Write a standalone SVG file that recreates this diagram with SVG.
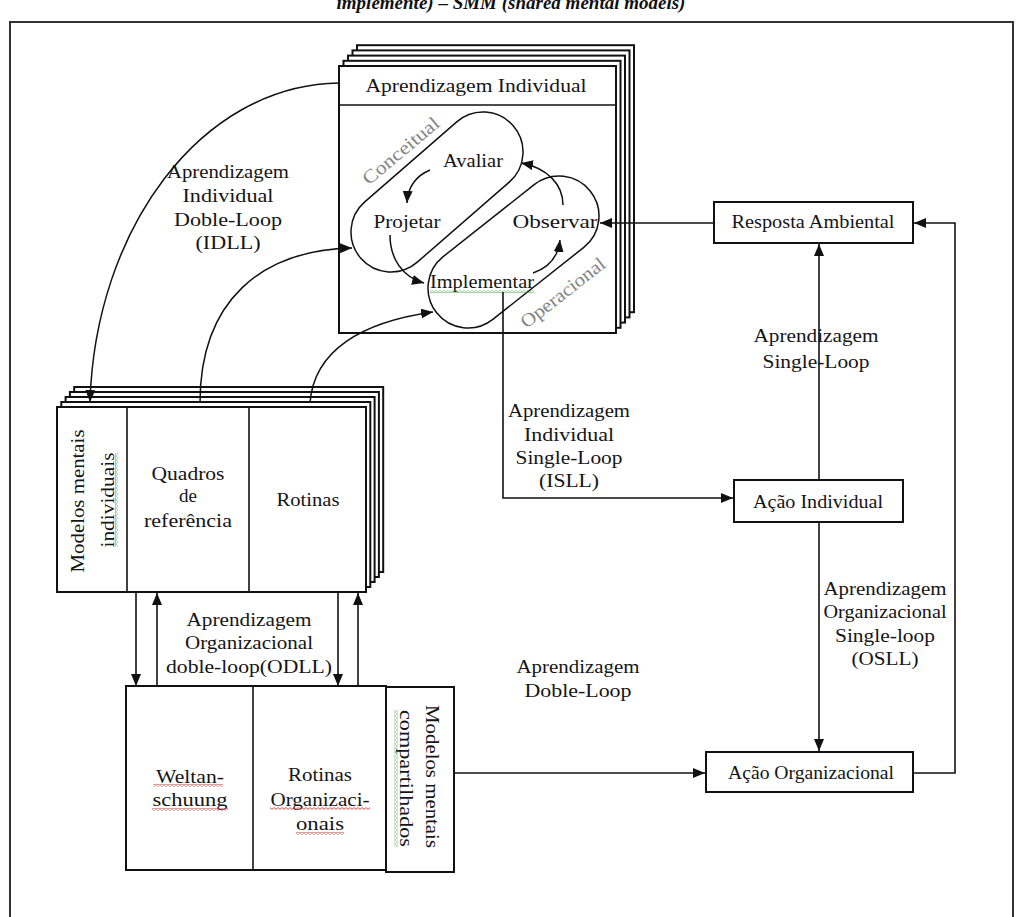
<svg xmlns="http://www.w3.org/2000/svg" width="1022" height="917" viewBox="0 0 1022 917">
<defs>
<style>
.t{font-family:'Liberation Serif','Times New Roman',serif;font-size:19px;fill:#151515;text-anchor:middle}
.g{fill:#858585}
.cap{font-family:'Liberation Serif','Times New Roman',serif;font-size:19px;font-weight:bold;font-style:italic;fill:#111;text-anchor:middle}
.box{fill:#fff;stroke:#111;stroke-width:2}
.ln{fill:none;stroke:#111;stroke-width:1.6}
.cur{fill:none;stroke:#111;stroke-width:1.5}
.arr{marker-end:url(#ah)}
</style>
<marker id="ah" viewBox="0 0 12 10" refX="12" refY="5" markerWidth="12" markerHeight="10" markerUnits="userSpaceOnUse" orient="auto">
<path d="M0,0 L12,5 L0,10 z" fill="#111"/>
</marker>
<pattern id="wr" width="4" height="3" patternUnits="userSpaceOnUse"><path d="M0,2.4 L2,0.6 L4,2.4" fill="none" stroke="#e03030" stroke-width="0.9"/></pattern>
<pattern id="wg" width="4" height="3" patternUnits="userSpaceOnUse"><path d="M0,2.4 L2,0.6 L4,2.4" fill="none" stroke="#3aa53a" stroke-width="0.9"/></pattern>
<pattern id="wgv" width="3" height="4" patternUnits="userSpaceOnUse"><path d="M2.4,0 L0.6,2 L2.4,4" fill="none" stroke="#3aa53a" stroke-width="0.9"/></pattern>
</defs>
<rect width="1022" height="917" fill="#fff"/>
<text class="cap" x="511" y="9">implemente) – SMM (shared mental models)</text>
<rect x="10" y="22" width="1003" height="920" fill="none" stroke="#333" stroke-width="2"/>

<g id="aprendizagem-individual">
<rect class="box" x="357" y="45.2" width="277" height="267"/>
<rect class="box" x="352.5" y="50.4" width="277" height="267"/>
<rect class="box" x="348" y="55.6" width="277" height="267"/>
<rect class="box" x="343.5" y="60.8" width="277" height="267"/>
<rect class="box" x="339" y="66" width="277" height="267"/>
<line class="ln" x1="339" y1="105" x2="616" y2="105" stroke-width="2"/>
<text class="t" x="476" y="92" textLength="221" lengthAdjust="spacingAndGlyphs">Aprendizagem Individual</text>
</g>

<g id="conceitual">
<path class="cur" d="M364.75,201.81 L456.75,121.81 A40,40 0 0 1 509.25,182.19 L417.25,262.19 A40,40 0 0 1 364.75,201.81 Z"/>
<text class="t g" transform="translate(401,151) rotate(-40)" x="0" y="6" font-size="18" textLength="94" lengthAdjust="spacingAndGlyphs">Conceitual</text>
</g>
<g id="operacional">
<path class="cur" d="M443.18,256.63 L534.18,184.63 A40,40 0 0 1 583.82,247.37 L492.82,319.37 A40,40 0 0 1 443.18,256.63 Z"/>
<text class="t g" transform="translate(563,293) rotate(-38)" x="0" y="6" font-size="18" textLength="102" lengthAdjust="spacingAndGlyphs">Operacional</text>
</g>
<g id="avaliar"><text class="t" x="473" y="167" textLength="60" lengthAdjust="spacingAndGlyphs">Avaliar</text></g>
<g id="projetar"><text class="t" x="407" y="228" textLength="67" lengthAdjust="spacingAndGlyphs">Projetar</text></g>
<g id="observar"><text class="t" x="555" y="228" textLength="85" lengthAdjust="spacingAndGlyphs">Observar</text></g>
<g id="implementar"><text class="t" x="482" y="288" textLength="104" lengthAdjust="spacingAndGlyphs">Implementar</text>
<rect x="430" y="290" width="104" height="3" fill="url(#wg)"/></g>

<g id="modelos-individuais">
<rect class="box" x="74.2" y="387" width="309" height="185"/>
<rect class="box" x="69.9" y="392" width="309" height="185"/>
<rect class="box" x="65.6" y="397" width="309" height="185"/>
<rect class="box" x="61.3" y="402" width="309" height="185"/>
<rect class="box" x="57" y="407" width="309" height="185"/>
<line class="ln" x1="127" y1="407" x2="127" y2="592" stroke-width="2"/>
<line class="ln" x1="249" y1="407" x2="249" y2="592" stroke-width="2"/>
<text class="t" transform="translate(79,501) rotate(-90)" x="0" y="5" textLength="143" lengthAdjust="spacingAndGlyphs">Modelos mentais</text>
<text class="t" transform="translate(109,500) rotate(-90)" x="0" y="5" textLength="95" lengthAdjust="spacingAndGlyphs">individuais</text>
<rect x="115" y="453" width="3" height="94" fill="url(#wgv)"/>
<text class="t" x="188" y="480" textLength="73" lengthAdjust="spacingAndGlyphs">Quadros</text>
<text class="t" x="188" y="502">de</text>
<text class="t" x="188" y="527" textLength="88" lengthAdjust="spacingAndGlyphs">referência</text>
<text class="t" x="308" y="506" textLength="63" lengthAdjust="spacingAndGlyphs">Rotinas</text>
</g>

<g id="modelos-organizacionais">
<rect class="box" x="126" y="686" width="260" height="184"/>
<line class="ln" x1="253" y1="686" x2="253" y2="870" stroke-width="2"/>
<text class="t" x="190" y="783" textLength="68" lengthAdjust="spacingAndGlyphs">Weltan-</text>
<text class="t" x="190" y="806" textLength="75" lengthAdjust="spacingAndGlyphs">schuung</text>
<rect x="153" y="784" width="70" height="3" fill="url(#wr)"/>
<rect x="152" y="808" width="76" height="3" fill="url(#wr)"/>
<text class="t" x="320" y="781" textLength="64" lengthAdjust="spacingAndGlyphs">Rotinas</text>
<text class="t" x="320" y="806" textLength="99" lengthAdjust="spacingAndGlyphs">Organizaci-</text>
<text class="t" x="320" y="830" textLength="48" lengthAdjust="spacingAndGlyphs">onais</text>
<rect x="270" y="807" width="100" height="3" fill="url(#wr)"/>
<rect x="296" y="832" width="48" height="3" fill="url(#wr)"/>
</g>
<g id="modelos-compartilhados">
<rect class="box" x="386" y="687" width="68" height="185"/>
<text class="t" transform="translate(431,776.5) rotate(90)" x="0" y="5" textLength="143" lengthAdjust="spacingAndGlyphs">Modelos mentais</text>
<text class="t" transform="translate(405,778.5) rotate(90)" x="0" y="5" textLength="137" lengthAdjust="spacingAndGlyphs">compartilhados</text>
<rect x="394.5" y="710" width="3" height="137" fill="url(#wgv)"/>
</g>

<g id="resposta-ambiental">
<rect class="box" x="714" y="202" width="199" height="41"/>
<text class="t" x="813" y="228" textLength="163" lengthAdjust="spacingAndGlyphs">Resposta Ambiental</text>
</g>
<g id="acao-individual">
<rect class="box" x="734" y="480" width="169" height="42"/>
<text class="t" x="818" y="508" textLength="130" lengthAdjust="spacingAndGlyphs">Ação Individual</text>
</g>
<g id="acao-organizacional">
<rect class="box" x="706" y="752" width="207" height="40"/>
<text class="t" x="811" y="779" textLength="166" lengthAdjust="spacingAndGlyphs">Ação Organizacional</text>
</g>

<g id="connectors">
<path class="cur arr" d="M339,83 C200,85 95,230 90,402"/>
<path class="cur arr" d="M200,403 C200,300 262,250 352,248"/>
<path class="cur arr" d="M310,403 C314,350 362,322 433,312"/>
<path class="cur arr" d="M430,170 C418,175 408,185 407,203"/>
<path class="cur arr" d="M390,235 C390,258 402,277 424,283"/>
<path class="cur arr" d="M533,273 C548,268 558,258 560,240"/>
<path class="cur arr" d="M563,205 C563,185 548,168 521,163"/>
<path class="ln arr" d="M714,223 L600,223"/>
<path class="ln arr" d="M913,773 L955,773 L955,223 L914,223"/>
<path class="ln arr" d="M819,480 L819,244"/>
<path class="ln arr" d="M819,522 L819,751"/>
<path class="ln arr" d="M503,292 L503,498 L733,498"/>
<path class="ln arr" d="M454,773 L705,773"/>
<path class="ln arr" d="M136,592 L136,686"/>
<path class="ln arr" d="M157,686 L157,593"/>
<path class="ln arr" d="M338,592 L338,686"/>
<path class="ln arr" d="M358,686 L358,593"/>
</g>

<g id="labels">
<text class="t" x="228" y="178" textLength="122" lengthAdjust="spacingAndGlyphs">Aprendizagem</text>
<text class="t" x="228" y="202" textLength="91" lengthAdjust="spacingAndGlyphs">Individual</text>
<text class="t" x="228" y="226" textLength="108" lengthAdjust="spacingAndGlyphs">Doble-Loop</text>
<text class="t" x="228" y="249" textLength="65" lengthAdjust="spacingAndGlyphs">(IDLL)</text>

<text class="t" x="569" y="417" textLength="122" lengthAdjust="spacingAndGlyphs">Aprendizagem</text>
<text class="t" x="569" y="441" textLength="90" lengthAdjust="spacingAndGlyphs">Individual</text>
<text class="t" x="569" y="464" textLength="107" lengthAdjust="spacingAndGlyphs">Single-Loop</text>
<text class="t" x="569" y="487" textLength="60" lengthAdjust="spacingAndGlyphs">(ISLL)</text>

<text class="t" x="816" y="342" textLength="125" lengthAdjust="spacingAndGlyphs">Aprendizagem</text>
<text class="t" x="816" y="368" textLength="107" lengthAdjust="spacingAndGlyphs">Single-Loop</text>

<text class="t" x="885" y="595" textLength="123" lengthAdjust="spacingAndGlyphs">Aprendizagem</text>
<text class="t" x="885" y="618" textLength="123" lengthAdjust="spacingAndGlyphs">Organizacional</text>
<text class="t" x="885" y="642" textLength="100" lengthAdjust="spacingAndGlyphs">Single-loop</text>
<text class="t" x="885" y="665" textLength="67" lengthAdjust="spacingAndGlyphs">(OSLL)</text>

<text class="t" x="578" y="673" textLength="123" lengthAdjust="spacingAndGlyphs">Aprendizagem</text>
<text class="t" x="578" y="697" textLength="107" lengthAdjust="spacingAndGlyphs">Doble-Loop</text>

<text class="t" x="249" y="626" textLength="125" lengthAdjust="spacingAndGlyphs">Aprendizagem</text>
<text class="t" x="249" y="649" textLength="128" lengthAdjust="spacingAndGlyphs">Organizacional</text>
<text class="t" x="249" y="673" textLength="166" lengthAdjust="spacingAndGlyphs">doble-loop(ODLL)</text>
</g>
</svg>
